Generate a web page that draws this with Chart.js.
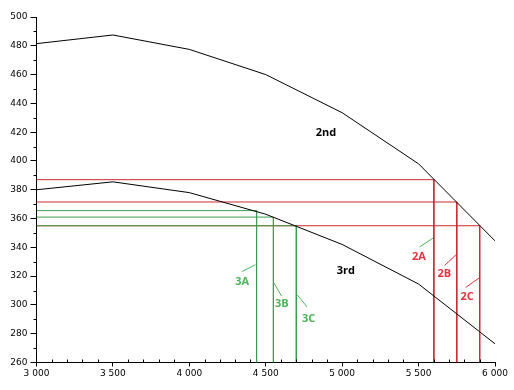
<!DOCTYPE html>
<html>
<head>
<meta charset="utf-8">
<script src="https://cdn.jsdelivr.net/npm/chart.js@4.4.1/dist/chart.umd.min.js"></script>
<style>
  html, body { margin: 0; padding: 0; background: #fff; }
  #wrap { width: 514px; height: 390px; position: relative; }
</style>
</head>
<body>
<div id="wrap"><canvas id="c" width="514" height="390"></canvas></div>
<script>
// ---- data ----
const rpm = [3000, 3500, 4000, 4500, 5000, 5500, 6000];
const gear2nd = [481.5, 487.5, 477.5, 460, 433.5, 398, 344.5];
const gear3rd = [380, 385.5, 378, 363, 342, 314.5, 273];

const redNames = ['2A', '2B', '2C'];
const redX = [5600, 5750, 5900];
const redY = [387, 371.5, 355];

const greenNames = ['3A', '3B', '3C'];
const greenX = [4440, 4550, 4700];
const greenY = [365.5, 361, 355];

const xMin = 3000, xMax = 6000, xStep = 500, xMinor = 100;
const yMin = 260, yMax = 500, yStep = 20, yMinor = 10;

// annotation text (data-space anchors)
const curveLabels = [
  { text: '2nd', x: 4894, y: 419.3 },
  { text: '3rd', x: 5024, y: 323.4 }
];
const greenLabelPos = [[4346, 316], [4605, 300.7], [4780, 290.2]];
const redLabelPos = [[5502, 333.1], [5669, 321.8], [5817, 305.5]];
const greenLeaders = [[4345, 323.2, 4433, 327.9], [4553, 315.4, 4603, 306.2], [4706, 307, 4771, 298.5]];
const redLeaders = [[5506, 340.2, 5594, 346.4, 'g'], [5670, 327.4, 5745, 334.8, 'r'], [5808, 312.1, 5896, 318.7, 'r']];

// ---- styles ----
const RED = '#cc2a32';
const GREEN = '#3a9e4e';
const RED_TXT = '#e0343f';
const GREEN_TXT = '#4cb35a';

const datasets = [];
datasets.push({
  label: '2nd', data: rpm.map((x, i) => ({ x, y: gear2nd[i] })),
  borderColor: '#000', borderWidth: 1, pointRadius: 0, tension: 0, order: 1
});
datasets.push({
  label: '3rd', data: rpm.map((x, i) => ({ x, y: gear3rd[i] })),
  borderColor: '#000', borderWidth: 1, pointRadius: 0, tension: 0, order: 1
});
redNames.forEach((n, i) => datasets.push({
  label: n, data: [{ x: xMin, y: redY[i] }, { x: redX[i], y: redY[i] }, { x: redX[i], y: yMin }],
  borderColor: RED, borderWidth: 1, pointRadius: 0, tension: 0, order: 3
}));
greenNames.forEach((n, i) => datasets.push({
  label: n, data: [{ x: xMin, y: greenY[i] }, { x: greenX[i], y: greenY[i] }, { x: greenX[i], y: yMin }],
  borderColor: GREEN, borderWidth: 1, pointRadius: 0, tension: 0, order: 2
}));

const fmt = v => {
  const s = String(Math.round(v));
  return s.length > 3 ? s.slice(0, s.length - 3) + ' ' + s.slice(-3) : s;
};

const annot = {
  id: 'annot',
  afterDatasetsDraw(chart) {
    const ctx = chart.ctx, xs = chart.scales.x, ys = chart.scales.y;
    ctx.save();
    // minor ticks
    ctx.strokeStyle = '#000'; ctx.lineWidth = 1;
    ctx.beginPath();
    for (let v = yMin; v <= yMax; v += yMinor) {
      if (v % yStep === 0) continue;
      const py = Math.round(ys.getPixelForValue(v)) + 0.5;
      ctx.moveTo(xs.left - 3, py); ctx.lineTo(xs.left, py);
    }
    for (let v = xMin; v <= xMax; v += xMinor) {
      if (v % xStep === 0) continue;
      const px = Math.round(xs.getPixelForValue(v)) + 0.5;
      ctx.moveTo(px, ys.bottom - 3); ctx.lineTo(px, ys.bottom);
    }
    ctx.stroke();
    // leader lines
    const leader = (a, col) => {
      ctx.strokeStyle = col; ctx.beginPath();
      ctx.moveTo(xs.getPixelForValue(a[0]), ys.getPixelForValue(a[1]));
      ctx.lineTo(xs.getPixelForValue(a[2]), ys.getPixelForValue(a[3]));
      ctx.stroke();
    };
    greenLeaders.forEach(a => leader(a, GREEN_TXT));
    redLeaders.forEach(a => leader(a, a[4] === 'g' ? GREEN_TXT : RED_TXT));
    // labels
    ctx.font = 'bold 11px "Open Sans"';
    ctx.textAlign = 'center'; ctx.textBaseline = 'middle';
    ctx.fillStyle = '#000';
    curveLabels.forEach(l => ctx.fillText(l.text, xs.getPixelForValue(l.x), ys.getPixelForValue(l.y)));
    ctx.fillStyle = GREEN_TXT;
    greenNames.forEach((n, i) => ctx.fillText(n, xs.getPixelForValue(greenLabelPos[i][0]), ys.getPixelForValue(greenLabelPos[i][1])));
    ctx.fillStyle = RED_TXT;
    redNames.forEach((n, i) => ctx.fillText(n, xs.getPixelForValue(redLabelPos[i][0]), ys.getPixelForValue(redLabelPos[i][1])));
    ctx.restore();
  }
};

new Chart(document.getElementById('c'), {
  type: 'line',
  data: { datasets },
  options: {
    responsive: false,
    animation: false,
    events: [],
    layout: { padding: { top: 17, right: 19, left: 0, bottom: 0 } },
    plugins: { legend: { display: false }, tooltip: { enabled: false } },
    scales: {
      x: {
        type: 'linear', min: xMin, max: xMax,
        afterFit: s => { s.height = 27.5; },
        border: { display: true, color: '#000', width: 1 },
        grid: { display: true, drawOnChartArea: false, drawTicks: true, tickLength: 4, color: '#000' },
        ticks: { stepSize: xStep, color: '#000', padding: 2, maxRotation: 0, autoSkip: false,
                 font: { family: 'DejaVu Sans', size: 9 }, callback: v => fmt(v) }
      },
      y: {
        type: 'linear', min: yMin, max: yMax,
        afterFit: s => { s.width = 36.5; },
        border: { display: true, color: '#000', width: 1 },
        grid: { display: true, drawOnChartArea: false, drawTicks: true, tickLength: 6, color: '#000' },
        ticks: { stepSize: yStep, color: '#000', padding: 3,
                 font: { family: 'DejaVu Sans', size: 9 }, callback: v => fmt(v) }
      }
    }
  },
  plugins: [annot]
});
</script>
</body>
</html>
